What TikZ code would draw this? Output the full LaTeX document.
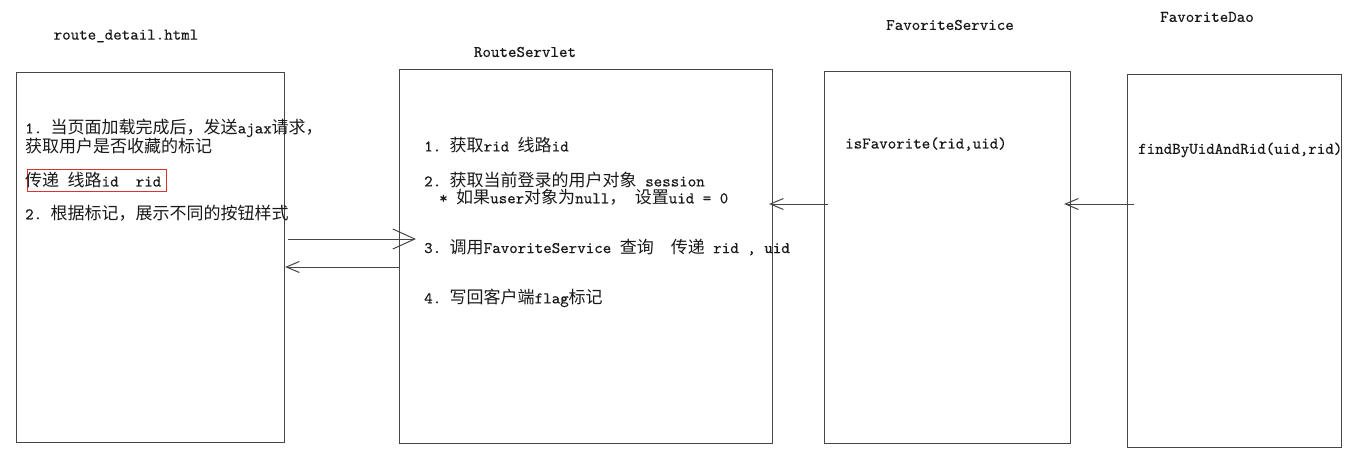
\documentclass[tikz,border=0pt]{standalone}
\usepackage{fontspec}
\setmonofont{lmmono10-regular.otf}[FakeBold=0.35]
\newfontfamily\cjkf{Noto Sans CJK SC}
\usetikzlibrary{arrows.meta}
\newcommand\C[1]{{\fontsize{17}{18}\selectfont\cjkf #1}}
\definecolor{linegray}{RGB}{70,70,70}
\definecolor{textgray}{RGB}{25,25,25}
\definecolor{redline}{RGB}{220,50,50}
\tikzset{
  box/.style={draw=linegray, line width=1.1pt, inner sep=0pt, anchor=north west},
  txt/.style={anchor=west, inner sep=0pt, font=\fontsize{16.2}{18}\selectfont\ttfamily, text=textgray},
  ttl/.style={txt, anchor=center},
  arr/.style={draw=linegray, line width=1pt},
  bighead/.style={arr, -{Straight Barb[length=22pt,width=20pt]}},
  smallhead/.style={arr, -{Straight Barb[length=13pt,width=11pt]}},
}
\begin{document}
\begin{tikzpicture}[x=1pt,y=-1pt]
\useasboundingbox (0,0) rectangle (1361,453);
\fill[white] (0,0) rectangle (1361,453);
% boxes
\node[box, minimum width=268, minimum height=370] (b1) at (16,72) {};
\node[box, minimum width=373, minimum height=374] (b2) at (399,69) {};
\node[box, minimum width=246, minimum height=372] (b3) at (824,71) {};
\node[box, minimum width=214, minimum height=373] (b4) at (1127,74) {};
% titles
\node[ttl] (l1) at (126,36) {route\_detail.html};
\node[ttl] (l2) at (525,52) {RouteServlet};
\node[ttl] (l3) at (950,25) {FavoriteService};
\node[ttl] (l4) at (1207,17) {FavoriteDao};
% box 1 text
\node[box, draw=redline, line width=1pt, minimum width=139, minimum height=22] (rb) at (27,169) {};
\node[txt] (a1) at (25,128) {1. \C{当页面加载完成后，发送}ajax\C{请求，}};
\node[txt] (a2) at (25,146) {\C{获取用户是否收藏的标记}};
\node[txt] (a3) at (25,180) {\C{传递} \C{线路}id\ \ rid};
\node[txt] (a4) at (25,213) {2. \C{根据标记，展示不同的按钮样式}};
% box 2 text
\node[txt] (s1) at (424,145) {1. \C{获取}rid \C{线路}id};
\node[txt] (s2) at (424,180) {2. \C{获取当前登录的用户对象} session};
\node[txt] (s3) at (439,197) {* \C{如果}user\C{对象为}null\C{，} \C{设置}uid = 0};
\node[txt] (s4) at (424,247) {3. \C{调用}FavoriteService \C{查询}\ \ \C{传递} rid , uid};
\node[txt] (s5) at (424,298) {4. \C{写回客户端}flag\C{标记}};
% box 3 / 4 text
\node[txt] (f1) at (845,144) {isFavorite(rid,uid)};
\node[txt] (d1) at (1138,150) {findByUidAndRid(uid,rid)};
% arrows
\draw[bighead] ([xshift=3pt]b1.east |- 0,239) -- ([xshift=17pt]b2.west |- 0,239);
\draw[smallhead] (b2.west |- 0,267) -- (b1.east |- 0,267);
\draw[smallhead] ([xshift=4pt]b3.west |- 0,204) -- ([xshift=-4pt]b2.east |- 0,204);
\draw[smallhead] ([xshift=7pt]b4.west |- 0,204) -- ([xshift=-7pt]b3.east |- 0,204);
\end{tikzpicture}
\end{document}
